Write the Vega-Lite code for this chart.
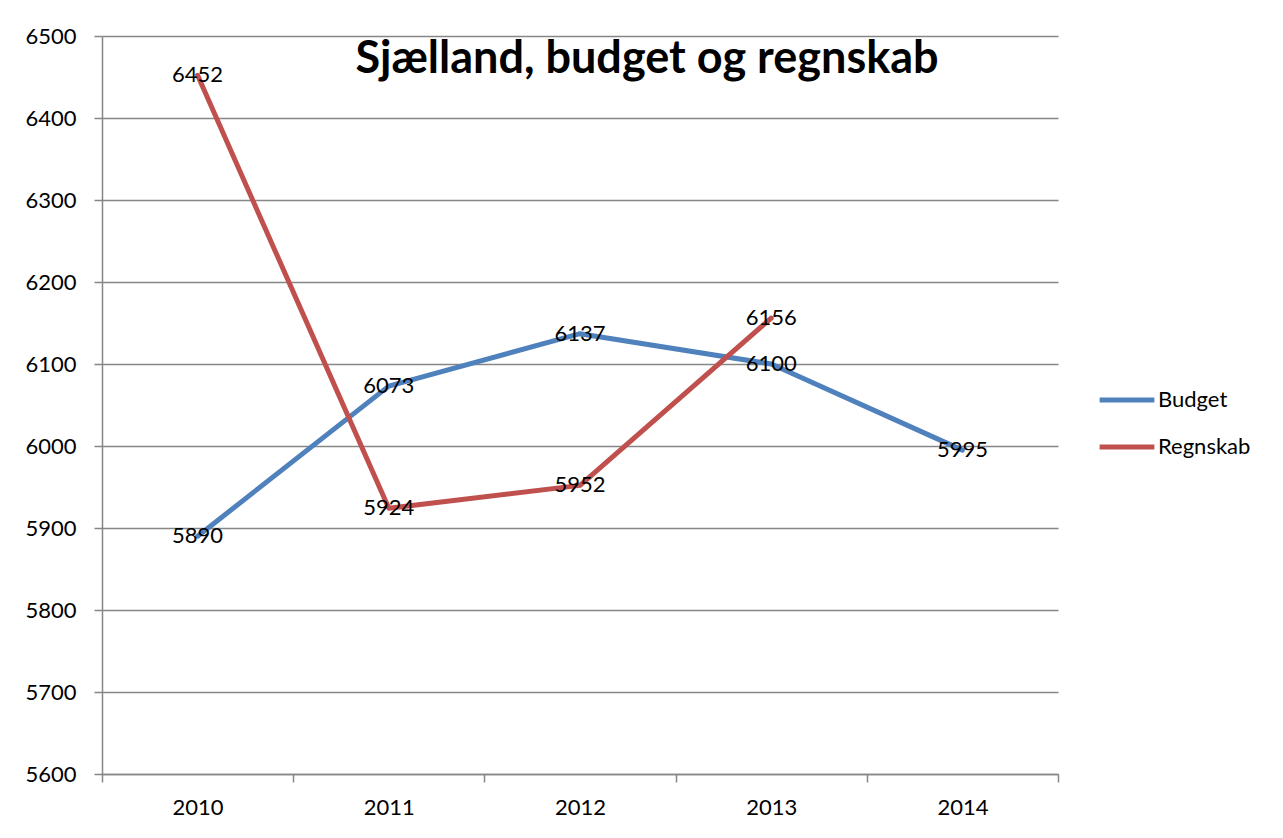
{
  "$schema": "https://vega.github.io/schema/vega-lite/v6.json",
  "autosize": "none",
  "width": 956,
  "height": 738,
  "padding": {"left": 102, "top": 36, "right": 225, "bottom": 64},
  "background": "white",
  "config": {
    "font": "Lato",
    "view": {"stroke": null},
    "axis": {"labelFont": "Lato", "labelFontSize": 22, "labelColor": "black", "domainColor": "#868686", "tickColor": "#868686", "gridColor": "#868686", "domainWidth": 1.5, "tickWidth": 1.5, "gridWidth": 1.5}
  },
  "title": {
    "text": "Sjælland, budget og regnskab",
    "fontSize": 45,
    "fontWeight": "bold",
    "font": "Lato",
    "color": "black",
    "anchor": "middle",
    "dx": 67,
    "offset": -57
  },
  "data": {
    "values": [
      {"year": "2010", "series": "Budget", "value": 5890},
      {"year": "2011", "series": "Budget", "value": 6073},
      {"year": "2012", "series": "Budget", "value": 6137},
      {"year": "2013", "series": "Budget", "value": 6100},
      {"year": "2014", "series": "Budget", "value": 5995},
      {"year": "2010", "series": "Regnskab", "value": 6452},
      {"year": "2011", "series": "Regnskab", "value": 5924},
      {"year": "2012", "series": "Regnskab", "value": 5952},
      {"year": "2013", "series": "Regnskab", "value": 6156}
    ]
  },
  "encoding": {
    "x": {
      "field": "year", "type": "nominal",
      "scale": {"type": "band", "paddingInner": 0, "paddingOuter": 0},
      "axis": {"title": null, "labelAngle": 0, "grid": false, "tickBand": "extent", "tickSize": 8, "labelPadding": 15, "labelFontSize": 22, "labelFont": "Lato"}
    },
    "y": {
      "field": "value", "type": "quantitative",
      "scale": {"domain": [5600, 6500], "nice": false, "zero": false},
      "axis": {"title": null, "format": "d", "values": [5600, 5700, 5800, 5900, 6000, 6100, 6200, 6300, 6400, 6500], "tickSize": 8, "labelPadding": 18, "labelFontSize": 22, "labelFont": "Lato"}
    }
  },
  "layer": [
    {
      "mark": {"type": "line", "strokeWidth": 5, "strokeCap": "round", "strokeJoin": "round"},
      "encoding": {
        "color": {
          "field": "series", "type": "nominal",
          "scale": {"domain": ["Budget", "Regnskab"], "range": ["#4F81BD", "#C0504D"]},
          "legend": {"title": null, "orient": "none", "legendX": 995, "legendY": 334, "symbolType": "stroke", "symbolSize": 3000, "symbolStrokeWidth": 5, "labelFontSize": 22, "labelFont": "Lato", "labelColor": "black", "rowPadding": 6, "labelOffset": 1}
        }
      }
    },
    {
      "mark": {"type": "text", "fontSize": 22, "font": "Lato", "color": "black"},
      "encoding": {
        "text": {"field": "value", "type": "quantitative", "format": "d"}
      }
    }
  ]
}
